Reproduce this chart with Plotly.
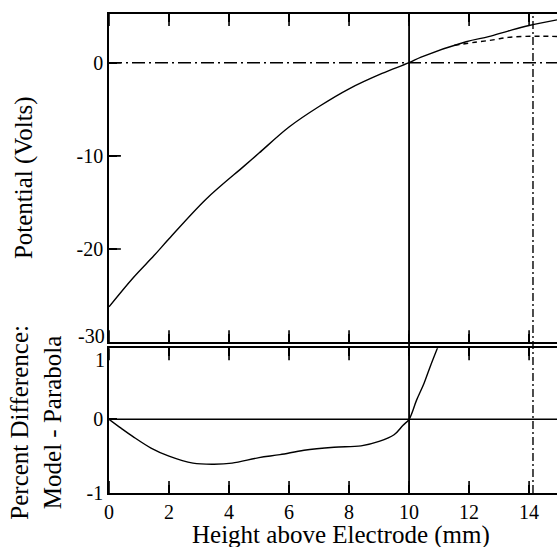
import plotly.graph_objects as go

# Electrostatic potential above the electrode (model) and its parabolic fit
height_model = [0.0, 0.8, 1.5, 2.0, 3.25, 4.5, 5.0, 6.0, 7.0, 8.0, 9.1, 10.0,
                10.4, 11.9, 12.65, 13.3, 14.0, 14.93]
potential_model = [-26.2, -23.1, -20.7, -18.9, -14.6, -11.1, -9.7, -6.9, -4.7, -2.8,
                   -1.15, 0.0, 0.6, 2.25, 2.8, 3.4, 4.0, 4.6]

height_parabola = [11.5, 12.2, 12.8, 13.3, 13.85, 14.45, 14.93]
potential_parabola = [1.86, 2.2, 2.45, 2.72, 2.83, 2.84, 2.82]

# Percent difference: model - parabola
height_diff = [0.0, 0.4, 0.8, 1.4, 2.0, 2.8, 3.5, 4.1, 5.0, 5.7, 6.5, 7.5, 8.4,
               9.0, 9.5, 9.8, 10.0, 10.25, 10.5, 10.7, 10.95]
percent_diff = [0.0, -0.12, -0.235, -0.39, -0.50, -0.595, -0.61, -0.595, -0.52,
                -0.48, -0.42, -0.38, -0.36, -0.30, -0.21, -0.08, 0.0, 0.26, 0.49,
                0.71, 0.97]

# Reference markers
zero_height = 10.0
peak_height = 14.13

x_ticks = [0, 2, 4, 6, 8, 10, 12, 14]
top_y_ticks = [0, -10, -20, -30]
bottom_y_ticks = [-1, 0]

x_range = [0, 14.93]
top_y_range = [-30, 5.23]
bottom_y_range = [-1, 0.963]

FONT = "Liberation Serif"
INK = "black"

fig = go.Figure()

fig.add_trace(go.Scatter(x=height_model, y=potential_model, mode="lines",
                         xaxis="x", yaxis="y",
                         line=dict(color=INK, width=1.4, shape="spline"),
                         showlegend=False))
fig.add_trace(go.Scatter(x=height_parabola, y=potential_parabola, mode="lines",
                         xaxis="x", yaxis="y",
                         line=dict(color=INK, width=1.4, dash="5px,4px", shape="spline"),
                         showlegend=False))
fig.add_trace(go.Scatter(x=height_diff, y=percent_diff, mode="lines",
                         xaxis="x2", yaxis="y2",
                         line=dict(color=INK, width=1.4, shape="spline"),
                         showlegend=False))


# Inward tick marks: line markers centred on the frame, half clipped away
def tick_marks(xs, ys, symbol, xaxis, yaxis):
    return go.Scatter(x=xs, y=ys, mode="markers", xaxis=xaxis, yaxis=yaxis,
                      cliponaxis=True, hoverinfo="skip", showlegend=False,
                      marker=dict(symbol=symbol, size=17, color=INK,
                                  line=dict(color=INK, width=1.6)))


n = len(x_ticks)
fig.add_trace(tick_marks(x_ticks * 2, [top_y_range[1]] * n + [top_y_range[0]] * n,
                         "line-ns-open", "x", "y"))
fig.add_trace(tick_marks([x_range[0]] * 3, top_y_ticks[:3], "line-ew-open", "x", "y"))
fig.add_trace(tick_marks(x_ticks * 2,
                         [bottom_y_range[1]] * n + [bottom_y_range[0]] * n,
                         "line-ns-open", "x2", "y2"))

# Horizontal zero lines
fig.add_shape(type="line", xref="x domain", yref="y", x0=0, x1=1, y0=0, y1=0,
              line=dict(color=INK, width=1.4, dash="13px,4px,2px,4px"))
fig.add_shape(type="line", xref="x2 domain", yref="y2", x0=0, x1=1, y0=0, y1=0,
              line=dict(color=INK, width=1.6))

# Vertical markers through both panels
fig.add_shape(type="line", xref="x", yref="paper", x0=zero_height, x1=zero_height,
              y0=0, y1=1, line=dict(color=INK, width=1.8))
fig.add_shape(type="line", xref="x", yref="paper", x0=peak_height, x1=peak_height,
              y0=0, y1=1, line=dict(color=INK, width=1.4, dash="8px,3px,2px,3px"))


def axis_style(**extra):
    style = dict(showline=True, linecolor=INK, linewidth=1.6, ticks="inside",
                 ticklen=8, tickwidth=1.6, tickcolor=INK, showgrid=False,
                 zeroline=False, tickfont=dict(family=FONT, size=20, color=INK))
    style.update(extra)
    return style


fig.update_layout(
    xaxis=axis_style(range=x_range, tickvals=x_ticks, mirror="ticks", anchor="y",
                     showticklabels=False),
    yaxis=axis_style(range=top_y_range, tickvals=top_y_ticks,
                     ticktext=["0", "-10", "-20", ""], domain=[0.3148, 1.0],
                     anchor="x"),
    xaxis2=axis_style(range=x_range, tickvals=x_ticks, mirror="ticks", anchor="y2",
                      showticklabels=True),
    yaxis2=axis_style(range=bottom_y_range, tickvals=bottom_y_ticks,
                      ticktext=["-1", "0"], domain=[0.0, 0.3021], anchor="x2"),
)

label_font = dict(family=FONT, size=20, color=INK)
title_font = dict(family=FONT, size=25, color=INK)
fig.add_annotation(text="-30", xref="paper", x=0, xanchor="right", xshift=-2,
                   yref="y domain", y=0, yanchor="middle", yshift=6,
                   showarrow=False, font=label_font)
fig.add_annotation(text="1", xref="paper", x=0, xanchor="right", xshift=-2,
                   yref="y2 domain", y=1, yanchor="top", yshift=1,
                   showarrow=False, font=label_font)
fig.add_annotation(text="Potential (Volts)", textangle=-90, xref="paper", x=0,
                   xanchor="center", xshift=-85, yref="y domain", y=0.5,
                   yanchor="middle", showarrow=False, font=title_font)
fig.add_annotation(text="Percent Difference:<br>Model - Parabola", textangle=-90,
                   xref="paper", x=0, xanchor="center", xshift=-73,
                   yref="y2 domain", y=0.5, yanchor="middle", yshift=-2,
                   showarrow=False, font=title_font)
fig.add_annotation(text="Height above Electrode (mm)", xref="paper", x=0.5,
                   xanchor="center", xshift=8, yref="paper", y=0, yanchor="middle",
                   yshift=-42, showarrow=False, font=title_font)

fig.update_layout(width=557, height=547, margin=dict(l=109, r=0, t=14, b=54),
                  paper_bgcolor="white", plot_bgcolor="white",
                  font=dict(family=FONT, color=INK))

fig.write_html("out.html")
